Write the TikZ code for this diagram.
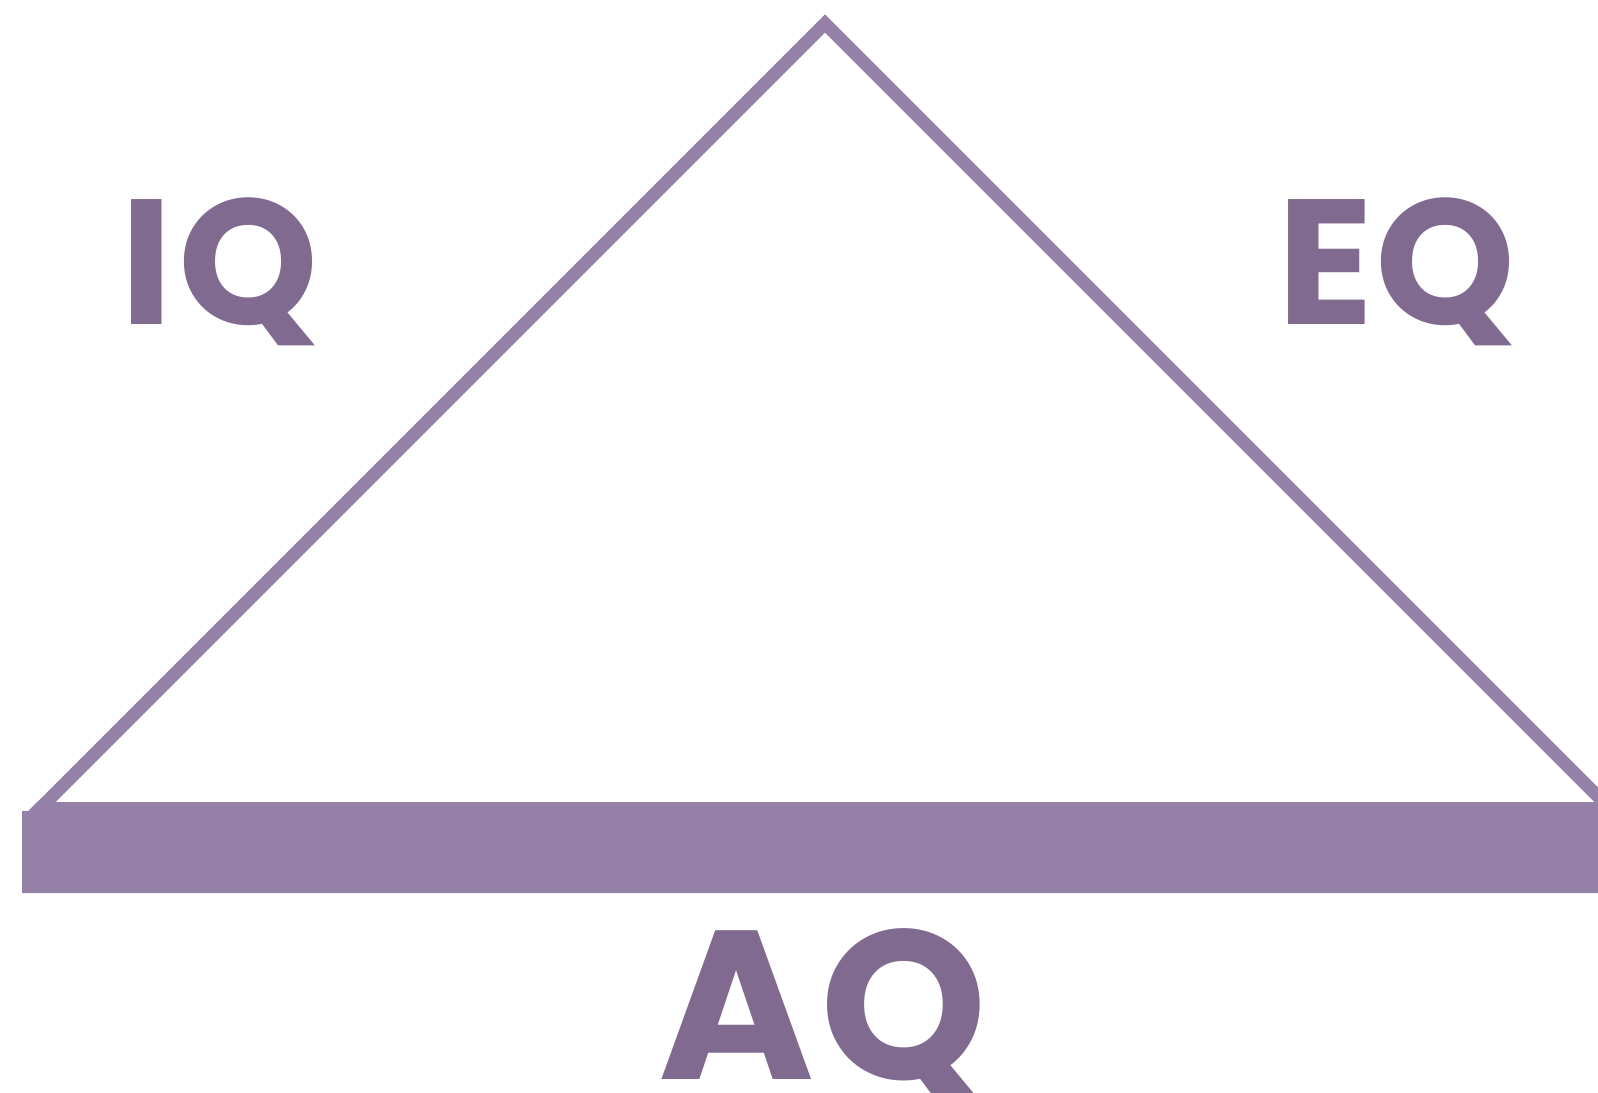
\documentclass[tikz,border=0pt]{standalone}
\usepackage{fontspec}
\setmainfont{Poppins}
\definecolor{barpurple}{RGB}{149,128,168}
\definecolor{textpurple}{RGB}{129,106,144}
\begin{document}
\begin{tikzpicture}[x=0.5pt,y=-0.5pt,
  lbl/.style={inner sep=0pt, text=textpurple, font=\bfseries},
  edge/.style={draw=barpurple, line width=6.5pt, miter limit=10}]
\useasboundingbox (0,0) rectangle (1598,1092);
\coordinate (apex) at (825,23.5);
\coordinate (lfar) at (-75,923.5);
\coordinate (rfar) at (1725,923.5);
\begin{scope}
  \clip (0,0) rectangle (1598,811);
  \draw[edge] (lfar) -- (apex) -- (rfar);
\end{scope}
\fill[barpurple] (22,893) -- (22,811) -- (28.3,811) -- (37.3,802) -- (1598,802) -- (1598,893) -- cycle;
\node[lbl, anchor=base west, font=\bfseries\fontsize{89}{89}\selectfont] (iq) at (120,324) {I\kern3pt Q};
\node[lbl, anchor=base west, font=\bfseries\fontsize{89}{89}\selectfont] (eq) at (1277,324) {E\kern1pt Q};
\node[lbl, anchor=base west, font=\bfseries\fontsize{106}{106}\selectfont] (aq) at (658,1079) {A\kern3pt Q};
\end{tikzpicture}
\end{document}
